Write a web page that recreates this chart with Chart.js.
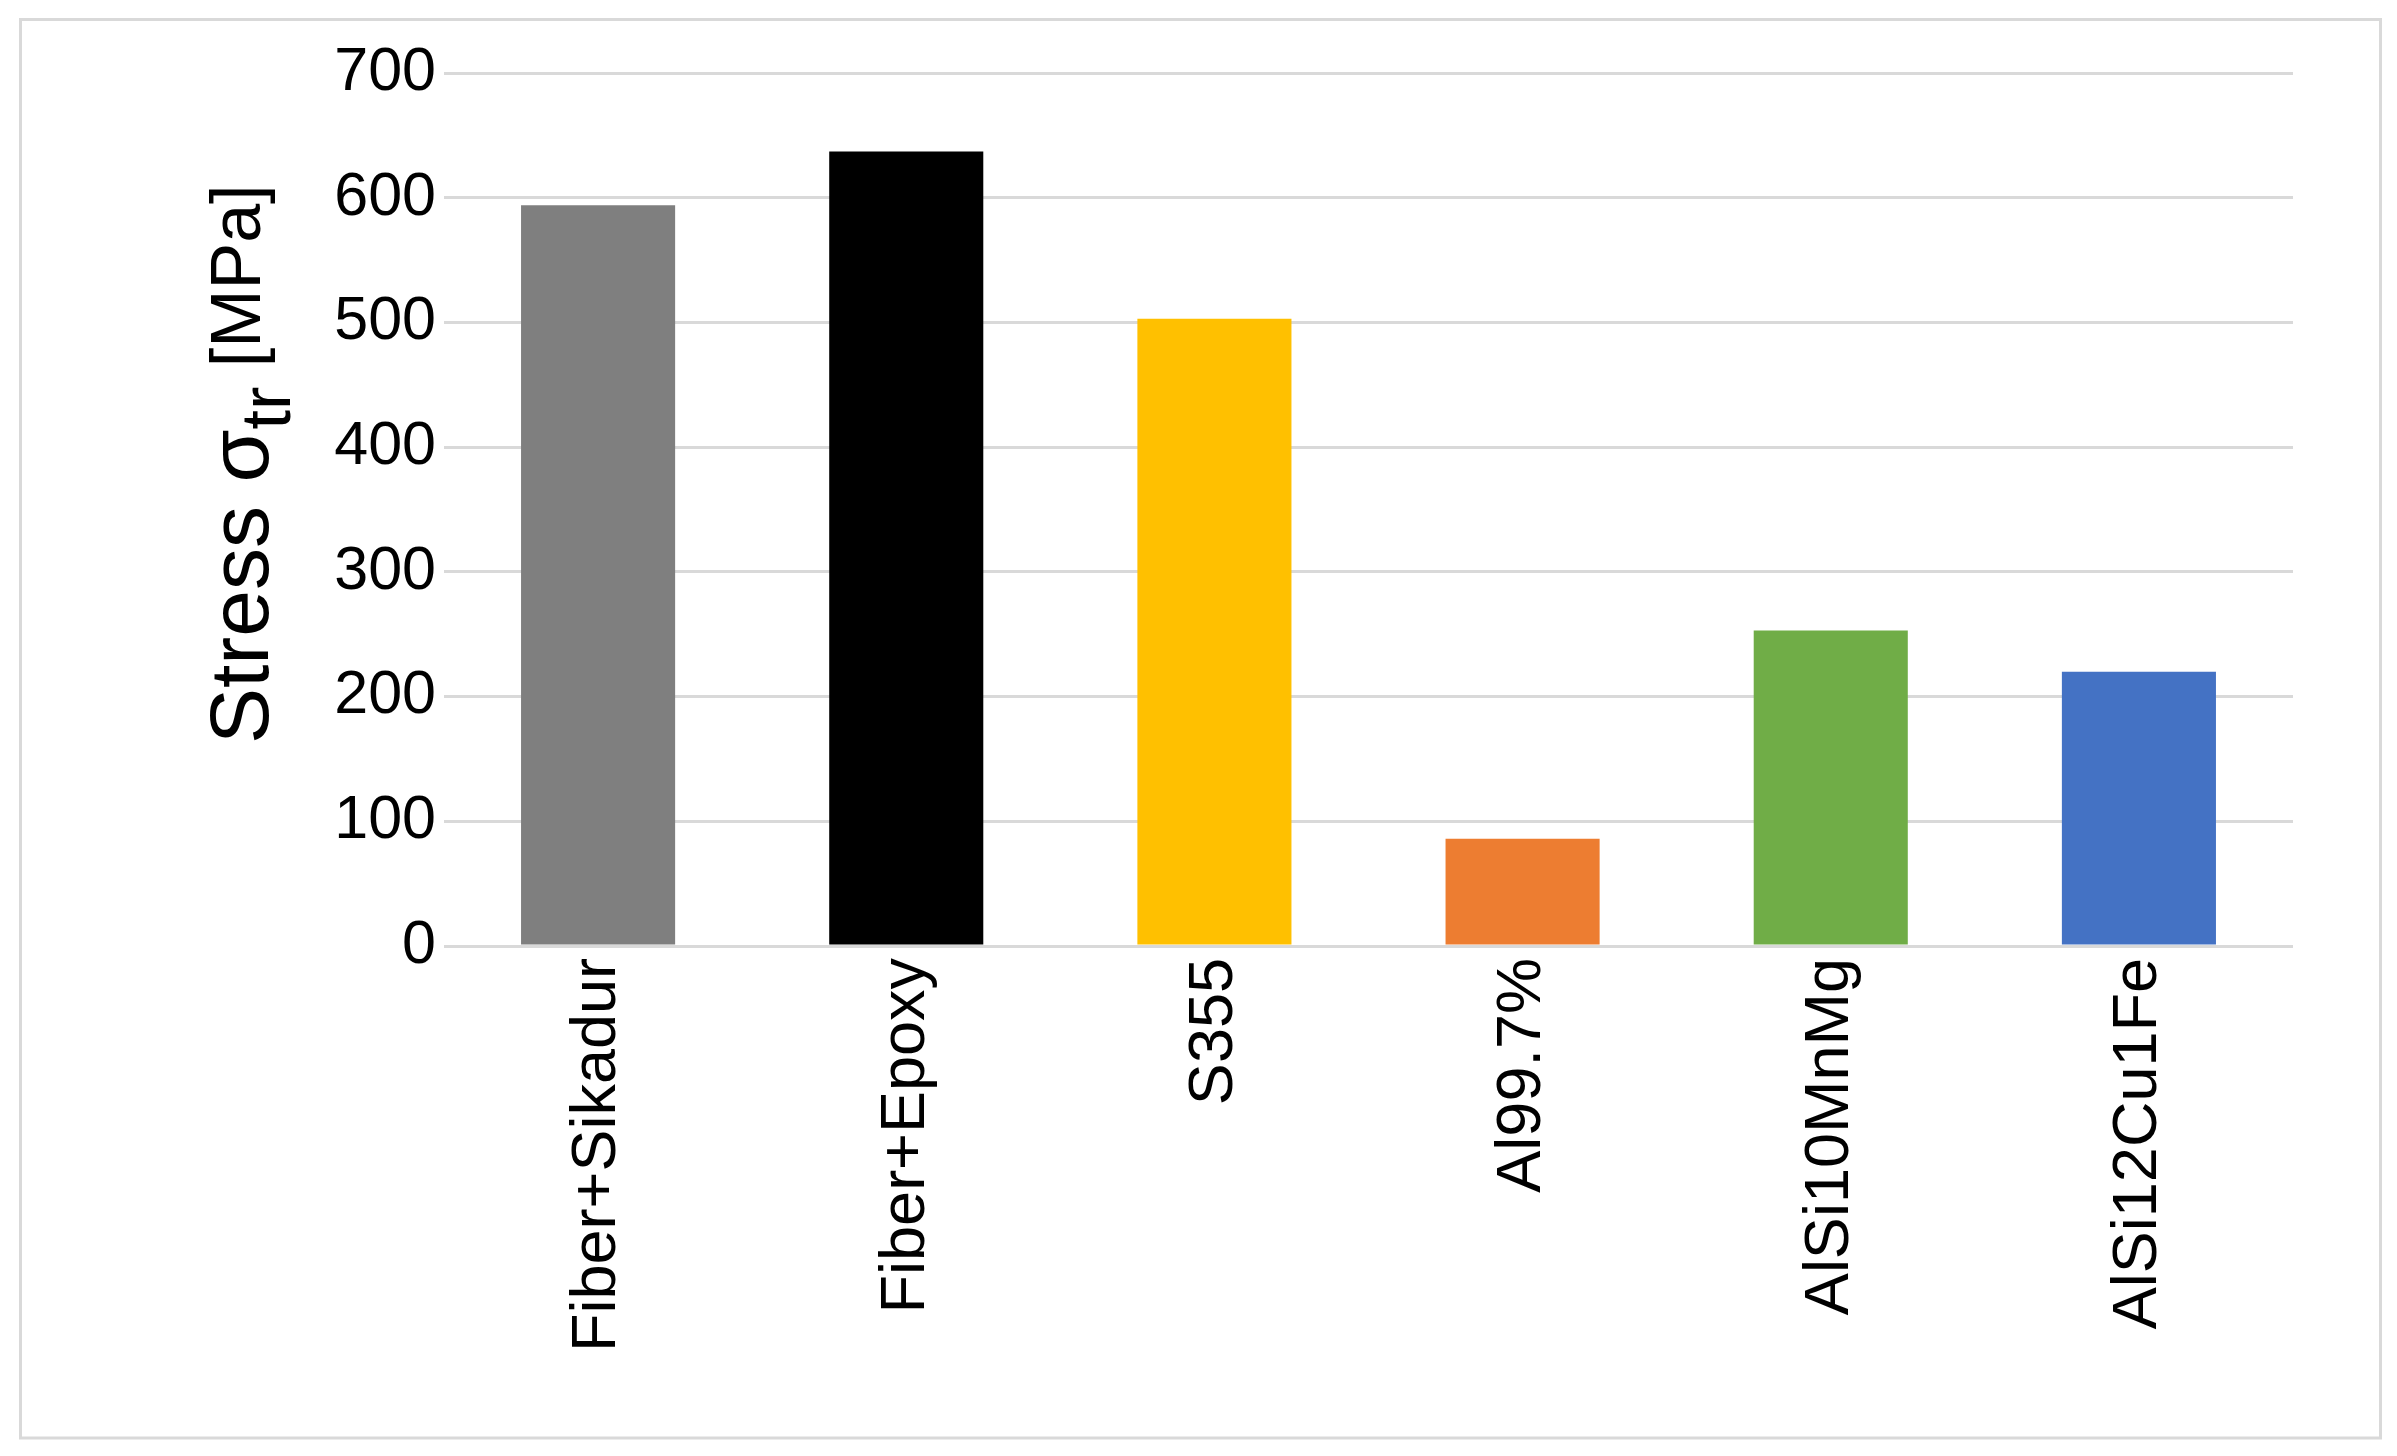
<!DOCTYPE html>
<html>
<head>
<meta charset="utf-8">
<script src="https://cdn.jsdelivr.net/npm/chart.js@4.4.1/dist/chart.umd.min.js"></script>
<style>
  html, body { margin: 0; padding: 0; background: #fff; }
  #chart { display: block; }
</style>
</head>
<body>
<canvas id="chart" width="2397" height="1456"></canvas>
<script>
// data
const materials = ['Fiber+Sikadur', 'Fiber+Epoxy', 'S355', 'Al99.7%', 'AlSi10MnMg', 'AlSi12Cu1Fe'];
const stress = [594, 637, 503, 86, 253, 220];
const barColors = ['#7f7f7f', '#000000', '#ffc000', '#ed7d31', '#70ad47', '#4472c4'];
const yTicks = [0, 100, 200, 300, 400, 500, 600, 700];

const FONT = "'Liberation Sans', Arial, sans-serif";

// light grey frame round the whole picture
const framePlugin = {
  id: 'frame',
  beforeDraw(chart) {
    const ctx = chart.ctx;
    ctx.save();
    ctx.fillStyle = '#fff';
    ctx.fillRect(0, 0, chart.width, chart.height);
    ctx.strokeStyle = '#d9d9d9';
    ctx.lineWidth = 3;
    ctx.strokeRect(20.5, 19.5, 2360, 1418.5);
    ctx.restore();
  }
};

// y title with the subscript: Stress σ_tr [MPa]
const yTitlePlugin = {
  id: 'yTitle',
  afterDraw(chart) {
    const ctx = chart.ctx;
    const runs = [
      { text: 'Stress ', size: 84, dy: 0 },
      { text: 'σ', size: 86, dy: 0 },
      { text: 'tr', size: 70, dy: 22 },
      { text: ' [MPa]', size: 70, dy: -8 }
    ];
    ctx.save();
    ctx.translate(268, 744);
    ctx.rotate(-Math.PI / 2);
    ctx.fillStyle = '#000';
    ctx.textBaseline = 'alphabetic';
    ctx.textAlign = 'left';
    let x = 0;
    runs.forEach(r => {
      ctx.font = r.size + 'px ' + FONT;
      ctx.fillText(r.text, x, r.dy);
      x += ctx.measureText(r.text).width;
    });
    ctx.restore();
  }
};

new Chart(document.getElementById('chart'), {
  type: 'bar',
  data: {
    labels: materials,
    datasets: [{
      data: stress,
      backgroundColor: barColors,
      borderWidth: 0,
      categoryPercentage: 1.0,
      barPercentage: 0.5
    }]
  },
  options: {
    responsive: false,
    animation: false,
    layout: { padding: { left: 0, top: 73, right: 104, bottom: 0 } },
    plugins: {
      legend: { display: false },
      tooltip: { enabled: false }
    },
    scales: {
      x: {
        grid: { display: false, drawTicks: false },
        border: { display: false },
        ticks: {
          color: '#000',
          font: { family: FONT, size: 63 },
          minRotation: 90,
          maxRotation: 90,
          padding: 12,
          autoSkip: false
        },
        afterFit(scale) { scale.height = 1456 - 946; }
      },
      y: {
        min: 0,
        max: 700,
        afterBuildTicks(scale) { scale.ticks = yTicks.map(v => ({ value: v })); },
        grid: { color: '#d9d9d9', lineWidth: 3, drawTicks: false },
        border: { display: false },
        ticks: {
          color: '#000',
          font: { family: FONT, size: 61 },
          padding: 8
        },
        afterFit(scale) { scale.width = 444; }
      }
    }
  },
  plugins: [framePlugin, yTitlePlugin]
});
</script>
</body>
</html>
